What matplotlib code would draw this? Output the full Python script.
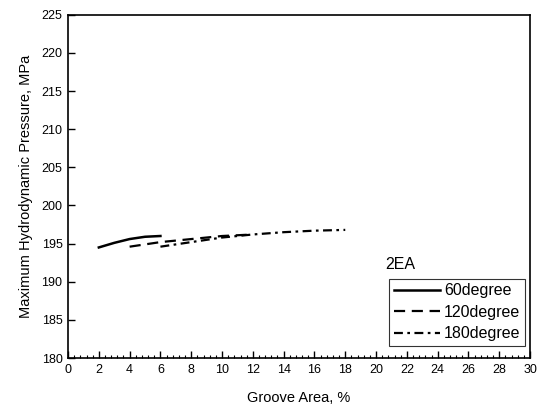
import matplotlib
matplotlib.use('Agg')
import matplotlib.pyplot as plt
from matplotlib.ticker import MultipleLocator

plt.rcParams['font.family'] = ['Liberation Sans', 'DejaVu Sans']

# data
x_60 = [2, 3, 4, 5, 6]
y_60 = [194.5, 195.1, 195.6, 195.9, 196.0]

x_120 = [4, 5, 6, 7, 8, 9, 10, 11, 12]
y_120 = [194.6, 194.9, 195.2, 195.4, 195.6, 195.8, 196.0, 196.1, 196.2]

x_180 = [6, 7, 8, 9, 10, 12, 14, 16, 18]
y_180 = [194.6, 194.9, 195.2, 195.5, 195.8, 196.2, 196.5, 196.7, 196.8]

labels = ['60degree', '120degree', '180degree']
legend_title = '2EA'

fig = plt.figure(figsize=(5.42, 4.12), dpi=100)
ax = fig.add_axes([0.1255, 0.131, 0.8525, 0.833])

ax.plot(x_60, y_60, color='black', lw=1.8, ls='-', label=labels[0])
ax.plot(x_120, y_120, color='black', lw=1.6, ls=(0, (5, 3)), label=labels[1])
ax.plot(x_180, y_180, color='black', lw=1.6, ls=(0, (4, 2, 1.2, 2)), label=labels[2])

ax.set_xlim(0, 30)
ax.set_ylim(180, 225)
ax.xaxis.set_major_locator(MultipleLocator(2))
ax.xaxis.set_minor_locator(MultipleLocator(0.4))
ax.yaxis.set_major_locator(MultipleLocator(5))
ax.tick_params(axis='both', which='major', direction='in', length=5, width=1,
               labelsize=9, pad=4)
ax.tick_params(axis='x', which='minor', direction='in', length=2.5, width=0.8)
for s in ax.spines.values():
    s.set_linewidth(1.2)

ax.set_xlabel('Groove Area, %', fontsize=10.5, labelpad=11)
ax.set_ylabel('Maximum Hydrodynamic Pressure, MPa', fontsize=10.5, labelpad=6)

leg = ax.legend(loc='lower right', bbox_to_anchor=(0.99, 0.035), fontsize=11.5,
                frameon=True, fancybox=False, handlelength=2.9, handletextpad=0.25,
                borderpad=0.3, labelspacing=0.4, borderaxespad=0)
leg.get_frame().set_edgecolor('black')
leg.get_frame().set_linewidth(0.8)
ax.text(0.686, 0.25, legend_title, transform=ax.transAxes, fontsize=11.5,
        ha='left', va='bottom')

fig.savefig('out.png', dpi=100)
